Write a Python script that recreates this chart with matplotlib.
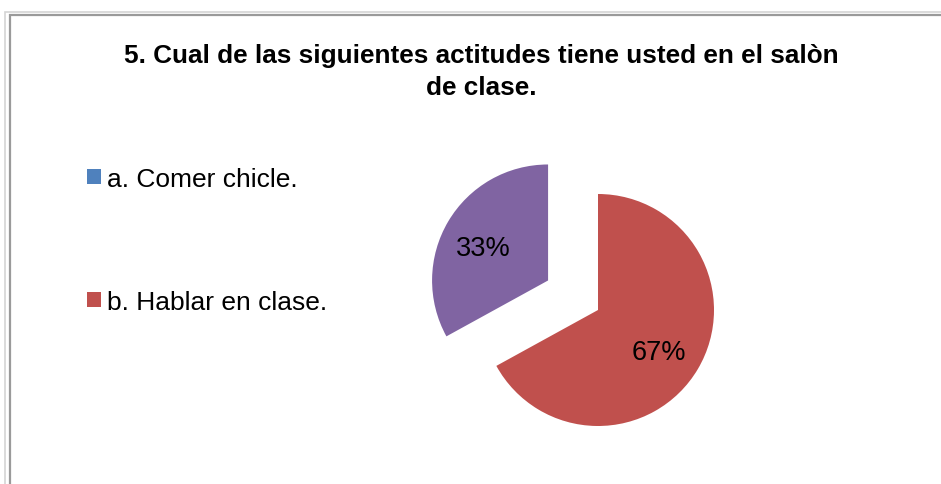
import matplotlib
matplotlib.use("Agg")
import matplotlib.pyplot as plt
from matplotlib.patches import Patch, Rectangle
from matplotlib.transforms import offset_copy

# ---- data ----
title = "5. Cual de las siguientes actitudes tiene usted en el salòn\nde clase."
categories = ["a. Comer chicle.", "b. Hablar en clase.", "c."]
values = [0, 67, 33]
colors = ["#4F81BD", "#C0504D", "#8064A2"]
explode = [0, 0, 0.5]
legend_count = 2

plt.rcParams['font.family'] = ['Liberation Sans', 'DejaVu Sans']

W, H = 941, 485
fig = plt.figure(figsize=(W / 100, H / 100), dpi=100)
fig.patch.set_facecolor("white")

# chart frame (double gray line, extends beyond right/bottom)
fig.patches.append(Rectangle((5 / W, -0.2), 1.2, (H - 13) / H + 0.2, transform=fig.transFigure,
                             fill=False, edgecolor="#d4d4d4", linewidth=1.2))
fig.patches.append(Rectangle((9.5 / W, -0.2), 1.2, (H - 16) / H + 0.2, transform=fig.transFigure,
                             fill=False, edgecolor="#9a9a9a", linewidth=1.6))

# title
fig.text(481 / W, 1 - 72 / H, title, ha="center", va="center", fontsize=18.8,
         fontweight="bold", linespacing=1.38, color="black")

# pie axes: center at (598, 311) px, radius 116 px
cx, cy, r = 598, 311, 116
half = 220
ax = fig.add_axes([(cx - half) / W, (H - cy - half) / H, 2 * half / W, 2 * half / H])
ax.axis("off")


def fmt(p):
    return "" if p < 0.5 else f"{p:.0f}%"


wedges, texts, autotexts = ax.pie(values, colors=colors, explode=explode, startangle=90,
                                  counterclock=False, autopct=fmt, pctdistance=0.63,
                                  textprops=dict(fontsize=19.5, color="black"),
                                  wedgeprops=dict(linewidth=0))
ax.set_xlim(-half / r, half / r)
ax.set_ylim(-half / r, half / r)
for t in autotexts:
    t.set_transform(offset_copy(t.get_transform(), fig=fig, x=-2, y=-5, units="dots"))

# legend
handles = [Patch(facecolor=colors[i], edgecolor="none") for i in range(legend_count)]
fig.legend(handles, categories[:legend_count], loc="upper left",
           bbox_to_anchor=(87 / W, 1 - 168 / H), frameon=False, fontsize=19,
           labelspacing=3.75, handlelength=0.52, handleheight=0.52, handletextpad=0.22,
           borderpad=0, borderaxespad=0)

fig.savefig("out.png", dpi=100, facecolor="white")
